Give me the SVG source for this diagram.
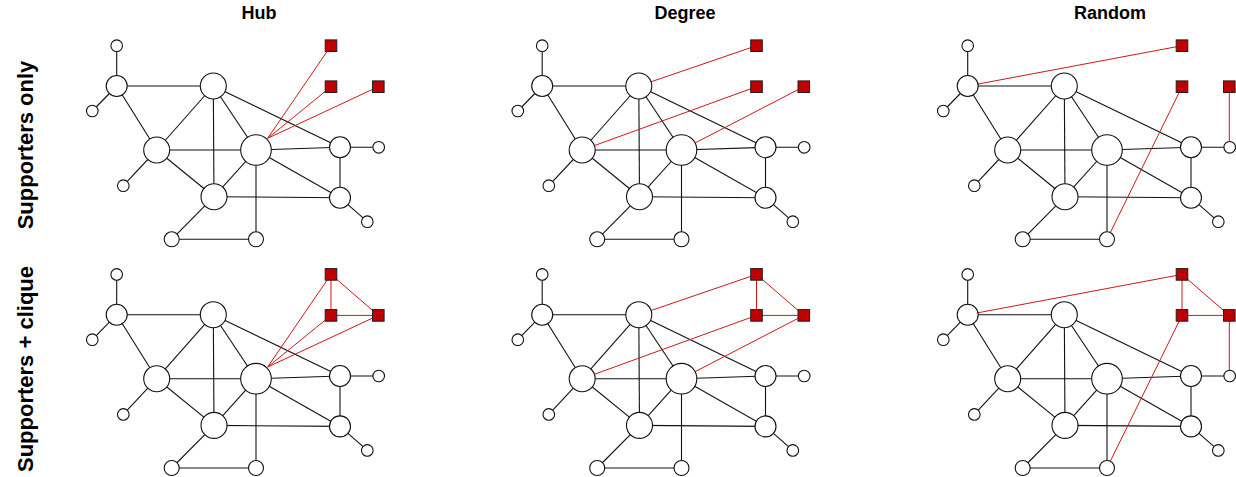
<svg xmlns="http://www.w3.org/2000/svg" width="1236" height="477" viewBox="0 0 1236 477">
<style>
.t{font-family:"Liberation Sans",Arial,sans-serif;font-weight:bold;font-size:18px;fill:#000;text-anchor:middle}
.rl{font-family:"Liberation Sans",Arial,sans-serif;font-weight:bold;font-size:22px;fill:#000;text-anchor:middle}
.e line{stroke:#111;stroke-width:1.1}
.e line.r{stroke:#d01818;stroke-width:1}
.n circle{fill:#fff;stroke:#111;stroke-width:1.1}
.s rect{fill:#c00000;stroke:#2a1a1a;stroke-width:1}
</style>
<rect width="1236" height="477" fill="#fff"/>
<g id="titles">
<text class="t" x="259" y="19">Hub</text>
<text class="t" x="685" y="19">Degree</text>
<text class="t" x="1110" y="19">Random</text>
<text class="rl" transform="translate(33,145) rotate(-90)">Supporters only</text>
<text class="rl" transform="translate(33,369) rotate(-90)">Supporters + clique</text>
</g>

<!-- Panel 1: Hub, supporters only -->
<g id="p1" transform="translate(0,0)">
<g id="p1-connectors" class="e">
<line x1="116.7" y1="45.7" x2="116.7" y2="86"/><line x1="116.7" y1="86" x2="92.3" y2="111"/><line x1="116.7" y1="86" x2="213.3" y2="86"/><line x1="116.7" y1="86" x2="156.7" y2="150"/><line x1="213.3" y1="86" x2="156.7" y2="150"/><line x1="213.3" y1="86" x2="214" y2="196.7"/><line x1="213.3" y1="86" x2="256" y2="150"/><line x1="213.3" y1="86" x2="340" y2="147.3"/><line x1="156.7" y1="150" x2="256" y2="150"/><line x1="156.7" y1="150" x2="214" y2="196.7"/><line x1="156.7" y1="150" x2="123.3" y2="185.7"/><line x1="256" y1="150" x2="214" y2="196.7"/><line x1="256" y1="150" x2="256" y2="239.3"/><line x1="256" y1="150" x2="340" y2="147.3"/><line x1="256" y1="150" x2="340" y2="197.7"/><line x1="340" y1="147.3" x2="378.7" y2="147.3"/><line x1="340" y1="147.3" x2="340" y2="197.7"/><line x1="214" y1="196.7" x2="340" y2="197.7"/><line x1="214" y1="196.7" x2="171.7" y2="239.3"/><line x1="171.7" y1="239.3" x2="256" y2="239.3"/><line x1="340" y1="197.7" x2="367.3" y2="221.7"/>
<line class="r" x1="267.7" y1="138.3" x2="331" y2="45.7"/><line class="r" x1="267.7" y1="138.3" x2="331" y2="86.7"/><line class="r" x1="267.7" y1="138.3" x2="378.3" y2="86.7"/>
</g>
<g id="p1-n1" class="n"><circle cx="116.7" cy="45.7" r="5.8"/></g>
<g id="p1-n2" class="n"><circle cx="116.7" cy="86" r="10.5"/></g>
<g id="p1-n3" class="n"><circle cx="92.3" cy="111" r="5.8"/></g>
<g id="p1-n4" class="n"><circle cx="213.3" cy="86" r="13"/></g>
<g id="p1-n5" class="n"><circle cx="156.7" cy="150" r="13"/></g>
<g id="p1-n6" class="n"><circle cx="256" cy="150" r="15.3"/></g>
<g id="p1-n7" class="n"><circle cx="340" cy="147.3" r="10.5"/></g>
<g id="p1-n8" class="n"><circle cx="378.7" cy="147.3" r="5.8"/></g>
<g id="p1-n9" class="n"><circle cx="123.3" cy="185.7" r="5.8"/></g>
<g id="p1-n10" class="n"><circle cx="214" cy="196.7" r="13"/></g>
<g id="p1-n11" class="n"><circle cx="340" cy="197.7" r="10.5"/></g>
<g id="p1-n12" class="n"><circle cx="367.3" cy="221.7" r="5.8"/></g>
<g id="p1-n13" class="n"><circle cx="171.7" cy="239.3" r="7.5"/></g>
<g id="p1-n14" class="n"><circle cx="256" cy="239.3" r="7.5"/></g>
<g id="p1-s1" class="s"><rect x="325.2" y="39.9" width="11.6" height="11.6"/></g>
<g id="p1-s2" class="s"><rect x="325.2" y="80.9" width="11.6" height="11.6"/></g>
<g id="p1-s3" class="s"><rect x="372.5" y="80.9" width="11.6" height="11.6"/></g>
</g>

<!-- Panel 2: Degree, supporters only -->
<g id="p2" transform="translate(425.5,0)">
<g id="p2-connectors" class="e">
<line x1="116.7" y1="45.7" x2="116.7" y2="86"/><line x1="116.7" y1="86" x2="92.3" y2="111"/><line x1="116.7" y1="86" x2="213.3" y2="86"/><line x1="116.7" y1="86" x2="156.7" y2="150"/><line x1="213.3" y1="86" x2="156.7" y2="150"/><line x1="213.3" y1="86" x2="214" y2="196.7"/><line x1="213.3" y1="86" x2="256" y2="150"/><line x1="213.3" y1="86" x2="340" y2="147.3"/><line x1="156.7" y1="150" x2="256" y2="150"/><line x1="156.7" y1="150" x2="214" y2="196.7"/><line x1="156.7" y1="150" x2="123.3" y2="185.7"/><line x1="256" y1="150" x2="214" y2="196.7"/><line x1="256" y1="150" x2="256" y2="239.3"/><line x1="256" y1="150" x2="340" y2="147.3"/><line x1="256" y1="150" x2="340" y2="197.7"/><line x1="340" y1="147.3" x2="378.7" y2="147.3"/><line x1="340" y1="147.3" x2="340" y2="197.7"/><line x1="214" y1="196.7" x2="340" y2="197.7"/><line x1="214" y1="196.7" x2="171.7" y2="239.3"/><line x1="171.7" y1="239.3" x2="256" y2="239.3"/><line x1="340" y1="197.7" x2="367.3" y2="221.7"/>
<line class="r" x1="213.3" y1="86" x2="331" y2="45.7"/><line class="r" x1="156.7" y1="150" x2="331" y2="86.7"/><line class="r" x1="256" y1="150" x2="378.3" y2="86.7"/>
</g>
<g id="p2-n1" class="n"><circle cx="116.7" cy="45.7" r="5.8"/></g>
<g id="p2-n2" class="n"><circle cx="116.7" cy="86" r="10.5"/></g>
<g id="p2-n3" class="n"><circle cx="92.3" cy="111" r="5.8"/></g>
<g id="p2-n4" class="n"><circle cx="213.3" cy="86" r="13"/></g>
<g id="p2-n5" class="n"><circle cx="156.7" cy="150" r="13"/></g>
<g id="p2-n6" class="n"><circle cx="256" cy="150" r="15.3"/></g>
<g id="p2-n7" class="n"><circle cx="340" cy="147.3" r="10.5"/></g>
<g id="p2-n8" class="n"><circle cx="378.7" cy="147.3" r="5.8"/></g>
<g id="p2-n9" class="n"><circle cx="123.3" cy="185.7" r="5.8"/></g>
<g id="p2-n10" class="n"><circle cx="214" cy="196.7" r="13"/></g>
<g id="p2-n11" class="n"><circle cx="340" cy="197.7" r="10.5"/></g>
<g id="p2-n12" class="n"><circle cx="367.3" cy="221.7" r="5.8"/></g>
<g id="p2-n13" class="n"><circle cx="171.7" cy="239.3" r="7.5"/></g>
<g id="p2-n14" class="n"><circle cx="256" cy="239.3" r="7.5"/></g>
<g id="p2-s1" class="s"><rect x="325.2" y="39.9" width="11.6" height="11.6"/></g>
<g id="p2-s2" class="s"><rect x="325.2" y="80.9" width="11.6" height="11.6"/></g>
<g id="p2-s3" class="s"><rect x="372.5" y="80.9" width="11.6" height="11.6"/></g>
</g>

<!-- Panel 3: Random, supporters only -->
<g id="p3" transform="translate(851,0)">
<g id="p3-connectors" class="e">
<line x1="116.7" y1="45.7" x2="116.7" y2="86"/><line x1="116.7" y1="86" x2="92.3" y2="111"/><line x1="116.7" y1="86" x2="213.3" y2="86"/><line x1="116.7" y1="86" x2="156.7" y2="150"/><line x1="213.3" y1="86" x2="156.7" y2="150"/><line x1="213.3" y1="86" x2="214" y2="196.7"/><line x1="213.3" y1="86" x2="256" y2="150"/><line x1="213.3" y1="86" x2="340" y2="147.3"/><line x1="156.7" y1="150" x2="256" y2="150"/><line x1="156.7" y1="150" x2="214" y2="196.7"/><line x1="156.7" y1="150" x2="123.3" y2="185.7"/><line x1="256" y1="150" x2="214" y2="196.7"/><line x1="256" y1="150" x2="256" y2="239.3"/><line x1="256" y1="150" x2="340" y2="147.3"/><line x1="256" y1="150" x2="340" y2="197.7"/><line x1="340" y1="147.3" x2="378.7" y2="147.3"/><line x1="340" y1="147.3" x2="340" y2="197.7"/><line x1="214" y1="196.7" x2="340" y2="197.7"/><line x1="214" y1="196.7" x2="171.7" y2="239.3"/><line x1="171.7" y1="239.3" x2="256" y2="239.3"/><line x1="340" y1="197.7" x2="367.3" y2="221.7"/>
<line class="r" x1="116.7" y1="86" x2="331" y2="45.7"/><line class="r" x1="256" y1="239.3" x2="331" y2="86.7"/><line class="r" x1="378.3" y1="147.3" x2="378.3" y2="86.7"/>
</g>
<g id="p3-n1" class="n"><circle cx="116.7" cy="45.7" r="5.8"/></g>
<g id="p3-n2" class="n"><circle cx="116.7" cy="86" r="10.5"/></g>
<g id="p3-n3" class="n"><circle cx="92.3" cy="111" r="5.8"/></g>
<g id="p3-n4" class="n"><circle cx="213.3" cy="86" r="13"/></g>
<g id="p3-n5" class="n"><circle cx="156.7" cy="150" r="13"/></g>
<g id="p3-n6" class="n"><circle cx="256" cy="150" r="15.3"/></g>
<g id="p3-n7" class="n"><circle cx="340" cy="147.3" r="10.5"/></g>
<g id="p3-n8" class="n"><circle cx="378.7" cy="147.3" r="5.8"/></g>
<g id="p3-n9" class="n"><circle cx="123.3" cy="185.7" r="5.8"/></g>
<g id="p3-n10" class="n"><circle cx="214" cy="196.7" r="13"/></g>
<g id="p3-n11" class="n"><circle cx="340" cy="197.7" r="10.5"/></g>
<g id="p3-n12" class="n"><circle cx="367.3" cy="221.7" r="5.8"/></g>
<g id="p3-n13" class="n"><circle cx="171.7" cy="239.3" r="7.5"/></g>
<g id="p3-n14" class="n"><circle cx="256" cy="239.3" r="7.5"/></g>
<g id="p3-s1" class="s"><rect x="325.2" y="39.9" width="11.6" height="11.6"/></g>
<g id="p3-s2" class="s"><rect x="325.2" y="80.9" width="11.6" height="11.6"/></g>
<g id="p3-s3" class="s"><rect x="372.5" y="80.9" width="11.6" height="11.6"/></g>
</g>

<!-- Panel 4: Hub, supporters + clique -->
<g id="p4" transform="translate(0,228.7)">
<g id="p4-connectors" class="e">
<line x1="116.7" y1="45.7" x2="116.7" y2="86"/><line x1="116.7" y1="86" x2="92.3" y2="111"/><line x1="116.7" y1="86" x2="213.3" y2="86"/><line x1="116.7" y1="86" x2="156.7" y2="150"/><line x1="213.3" y1="86" x2="156.7" y2="150"/><line x1="213.3" y1="86" x2="214" y2="196.7"/><line x1="213.3" y1="86" x2="256" y2="150"/><line x1="213.3" y1="86" x2="340" y2="147.3"/><line x1="156.7" y1="150" x2="256" y2="150"/><line x1="156.7" y1="150" x2="214" y2="196.7"/><line x1="156.7" y1="150" x2="123.3" y2="185.7"/><line x1="256" y1="150" x2="214" y2="196.7"/><line x1="256" y1="150" x2="256" y2="239.3"/><line x1="256" y1="150" x2="340" y2="147.3"/><line x1="256" y1="150" x2="340" y2="197.7"/><line x1="340" y1="147.3" x2="378.7" y2="147.3"/><line x1="340" y1="147.3" x2="340" y2="197.7"/><line x1="214" y1="196.7" x2="340" y2="197.7"/><line x1="214" y1="196.7" x2="171.7" y2="239.3"/><line x1="171.7" y1="239.3" x2="256" y2="239.3"/><line x1="340" y1="197.7" x2="367.3" y2="221.7"/>
<line class="r" x1="267.7" y1="138.3" x2="331" y2="45.7"/><line class="r" x1="267.7" y1="138.3" x2="331" y2="86.7"/><line class="r" x1="267.7" y1="138.3" x2="378.3" y2="86.7"/>
<line class="r" x1="331" y1="45.7" x2="331" y2="86.7"/><line class="r" x1="331" y1="86.7" x2="378.3" y2="86.7"/><line class="r" x1="331" y1="45.7" x2="378.3" y2="86.7"/>
</g>
<g id="p4-n1" class="n"><circle cx="116.7" cy="45.7" r="5.8"/></g>
<g id="p4-n2" class="n"><circle cx="116.7" cy="86" r="10.5"/></g>
<g id="p4-n3" class="n"><circle cx="92.3" cy="111" r="5.8"/></g>
<g id="p4-n4" class="n"><circle cx="213.3" cy="86" r="13"/></g>
<g id="p4-n5" class="n"><circle cx="156.7" cy="150" r="13"/></g>
<g id="p4-n6" class="n"><circle cx="256" cy="150" r="15.3"/></g>
<g id="p4-n7" class="n"><circle cx="340" cy="147.3" r="10.5"/></g>
<g id="p4-n8" class="n"><circle cx="378.7" cy="147.3" r="5.8"/></g>
<g id="p4-n9" class="n"><circle cx="123.3" cy="185.7" r="5.8"/></g>
<g id="p4-n10" class="n"><circle cx="214" cy="196.7" r="13"/></g>
<g id="p4-n11" class="n"><circle cx="340" cy="197.7" r="10.5"/></g>
<g id="p4-n12" class="n"><circle cx="367.3" cy="221.7" r="5.8"/></g>
<g id="p4-n13" class="n"><circle cx="171.7" cy="239.3" r="7.5"/></g>
<g id="p4-n14" class="n"><circle cx="256" cy="239.3" r="7.5"/></g>
<g id="p4-s1" class="s"><rect x="325.2" y="39.9" width="11.6" height="11.6"/></g>
<g id="p4-s2" class="s"><rect x="325.2" y="80.9" width="11.6" height="11.6"/></g>
<g id="p4-s3" class="s"><rect x="372.5" y="80.9" width="11.6" height="11.6"/></g>
</g>

<!-- Panel 5: Degree, supporters + clique -->
<g id="p5" transform="translate(425.5,228.7)">
<g id="p5-connectors" class="e">
<line x1="116.7" y1="45.7" x2="116.7" y2="86"/><line x1="116.7" y1="86" x2="92.3" y2="111"/><line x1="116.7" y1="86" x2="213.3" y2="86"/><line x1="116.7" y1="86" x2="156.7" y2="150"/><line x1="213.3" y1="86" x2="156.7" y2="150"/><line x1="213.3" y1="86" x2="214" y2="196.7"/><line x1="213.3" y1="86" x2="256" y2="150"/><line x1="213.3" y1="86" x2="340" y2="147.3"/><line x1="156.7" y1="150" x2="256" y2="150"/><line x1="156.7" y1="150" x2="214" y2="196.7"/><line x1="156.7" y1="150" x2="123.3" y2="185.7"/><line x1="256" y1="150" x2="214" y2="196.7"/><line x1="256" y1="150" x2="256" y2="239.3"/><line x1="256" y1="150" x2="340" y2="147.3"/><line x1="256" y1="150" x2="340" y2="197.7"/><line x1="340" y1="147.3" x2="378.7" y2="147.3"/><line x1="340" y1="147.3" x2="340" y2="197.7"/><line x1="214" y1="196.7" x2="340" y2="197.7"/><line x1="214" y1="196.7" x2="171.7" y2="239.3"/><line x1="171.7" y1="239.3" x2="256" y2="239.3"/><line x1="340" y1="197.7" x2="367.3" y2="221.7"/>
<line class="r" x1="213.3" y1="86" x2="331" y2="45.7"/><line class="r" x1="156.7" y1="150" x2="331" y2="86.7"/><line class="r" x1="256" y1="150" x2="378.3" y2="86.7"/>
<line class="r" x1="331" y1="45.7" x2="331" y2="86.7"/><line class="r" x1="331" y1="86.7" x2="378.3" y2="86.7"/><line class="r" x1="331" y1="45.7" x2="378.3" y2="86.7"/>
</g>
<g id="p5-n1" class="n"><circle cx="116.7" cy="45.7" r="5.8"/></g>
<g id="p5-n2" class="n"><circle cx="116.7" cy="86" r="10.5"/></g>
<g id="p5-n3" class="n"><circle cx="92.3" cy="111" r="5.8"/></g>
<g id="p5-n4" class="n"><circle cx="213.3" cy="86" r="13"/></g>
<g id="p5-n5" class="n"><circle cx="156.7" cy="150" r="13"/></g>
<g id="p5-n6" class="n"><circle cx="256" cy="150" r="15.3"/></g>
<g id="p5-n7" class="n"><circle cx="340" cy="147.3" r="10.5"/></g>
<g id="p5-n8" class="n"><circle cx="378.7" cy="147.3" r="5.8"/></g>
<g id="p5-n9" class="n"><circle cx="123.3" cy="185.7" r="5.8"/></g>
<g id="p5-n10" class="n"><circle cx="214" cy="196.7" r="13"/></g>
<g id="p5-n11" class="n"><circle cx="340" cy="197.7" r="10.5"/></g>
<g id="p5-n12" class="n"><circle cx="367.3" cy="221.7" r="5.8"/></g>
<g id="p5-n13" class="n"><circle cx="171.7" cy="239.3" r="7.5"/></g>
<g id="p5-n14" class="n"><circle cx="256" cy="239.3" r="7.5"/></g>
<g id="p5-s1" class="s"><rect x="325.2" y="39.9" width="11.6" height="11.6"/></g>
<g id="p5-s2" class="s"><rect x="325.2" y="80.9" width="11.6" height="11.6"/></g>
<g id="p5-s3" class="s"><rect x="372.5" y="80.9" width="11.6" height="11.6"/></g>
</g>

<!-- Panel 6: Random, supporters + clique -->
<g id="p6" transform="translate(851,228.7)">
<g id="p6-connectors" class="e">
<line x1="116.7" y1="45.7" x2="116.7" y2="86"/><line x1="116.7" y1="86" x2="92.3" y2="111"/><line x1="116.7" y1="86" x2="213.3" y2="86"/><line x1="116.7" y1="86" x2="156.7" y2="150"/><line x1="213.3" y1="86" x2="156.7" y2="150"/><line x1="213.3" y1="86" x2="214" y2="196.7"/><line x1="213.3" y1="86" x2="256" y2="150"/><line x1="213.3" y1="86" x2="340" y2="147.3"/><line x1="156.7" y1="150" x2="256" y2="150"/><line x1="156.7" y1="150" x2="214" y2="196.7"/><line x1="156.7" y1="150" x2="123.3" y2="185.7"/><line x1="256" y1="150" x2="214" y2="196.7"/><line x1="256" y1="150" x2="256" y2="239.3"/><line x1="256" y1="150" x2="340" y2="147.3"/><line x1="256" y1="150" x2="340" y2="197.7"/><line x1="340" y1="147.3" x2="378.7" y2="147.3"/><line x1="340" y1="147.3" x2="340" y2="197.7"/><line x1="214" y1="196.7" x2="340" y2="197.7"/><line x1="214" y1="196.7" x2="171.7" y2="239.3"/><line x1="171.7" y1="239.3" x2="256" y2="239.3"/><line x1="340" y1="197.7" x2="367.3" y2="221.7"/>
<line class="r" x1="116.7" y1="86" x2="331" y2="45.7"/><line class="r" x1="256" y1="239.3" x2="331" y2="86.7"/><line class="r" x1="378.3" y1="147.3" x2="378.3" y2="86.7"/>
<line class="r" x1="331" y1="45.7" x2="331" y2="86.7"/><line class="r" x1="331" y1="86.7" x2="378.3" y2="86.7"/><line class="r" x1="331" y1="45.7" x2="378.3" y2="86.7"/>
</g>
<g id="p6-n1" class="n"><circle cx="116.7" cy="45.7" r="5.8"/></g>
<g id="p6-n2" class="n"><circle cx="116.7" cy="86" r="10.5"/></g>
<g id="p6-n3" class="n"><circle cx="92.3" cy="111" r="5.8"/></g>
<g id="p6-n4" class="n"><circle cx="213.3" cy="86" r="13"/></g>
<g id="p6-n5" class="n"><circle cx="156.7" cy="150" r="13"/></g>
<g id="p6-n6" class="n"><circle cx="256" cy="150" r="15.3"/></g>
<g id="p6-n7" class="n"><circle cx="340" cy="147.3" r="10.5"/></g>
<g id="p6-n8" class="n"><circle cx="378.7" cy="147.3" r="5.8"/></g>
<g id="p6-n9" class="n"><circle cx="123.3" cy="185.7" r="5.8"/></g>
<g id="p6-n10" class="n"><circle cx="214" cy="196.7" r="13"/></g>
<g id="p6-n11" class="n"><circle cx="340" cy="197.7" r="10.5"/></g>
<g id="p6-n12" class="n"><circle cx="367.3" cy="221.7" r="5.8"/></g>
<g id="p6-n13" class="n"><circle cx="171.7" cy="239.3" r="7.5"/></g>
<g id="p6-n14" class="n"><circle cx="256" cy="239.3" r="7.5"/></g>
<g id="p6-s1" class="s"><rect x="325.2" y="39.9" width="11.6" height="11.6"/></g>
<g id="p6-s2" class="s"><rect x="325.2" y="80.9" width="11.6" height="11.6"/></g>
<g id="p6-s3" class="s"><rect x="372.5" y="80.9" width="11.6" height="11.6"/></g>
</g>
</svg>
